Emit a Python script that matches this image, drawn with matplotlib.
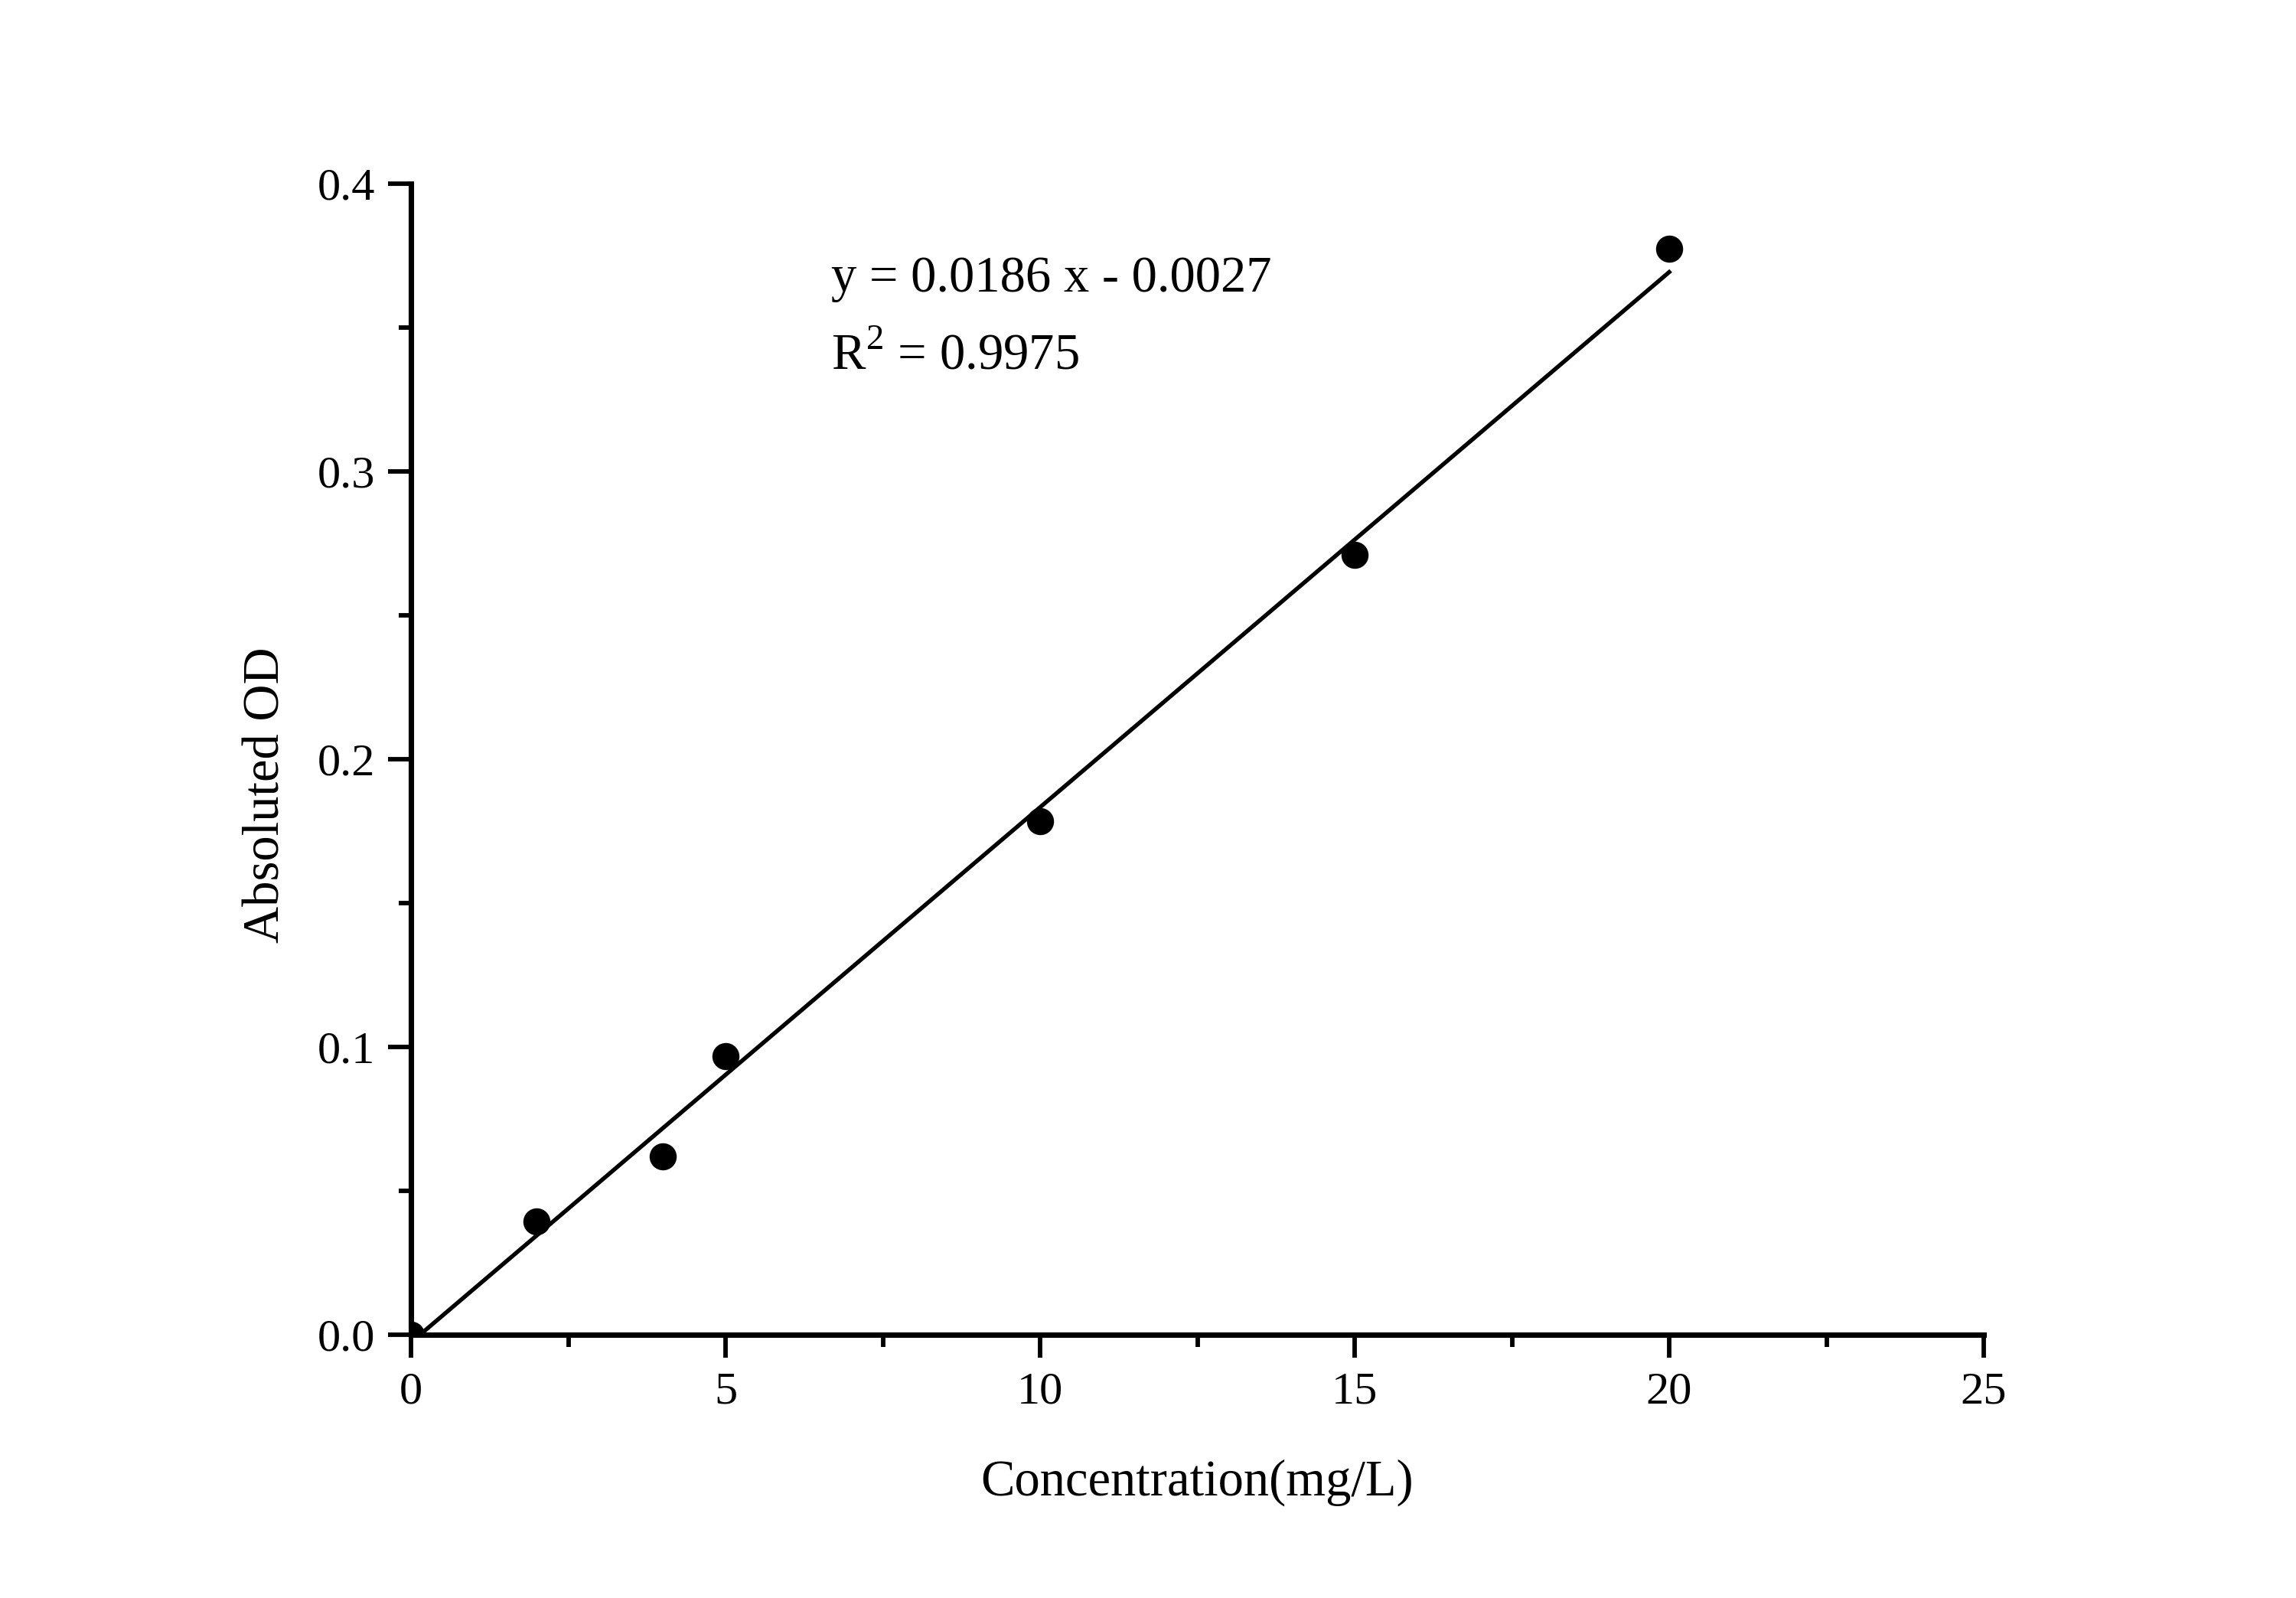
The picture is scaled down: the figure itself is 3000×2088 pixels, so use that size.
import matplotlib
matplotlib.use('Agg')
import matplotlib.pyplot as plt
from matplotlib.ticker import MultipleLocator
import numpy as np

plt.rcParams['font.family'] = ['Liberation Serif', 'DejaVu Serif']
plt.rcParams['mathtext.fontset'] = 'custom'
plt.rcParams['mathtext.rm'] = 'Liberation Serif'

# 資料
conc = [0, 2, 4, 5, 10, 15, 20]
od = [0.0, 0.0394, 0.0619, 0.0967, 0.1785, 0.2711, 0.3775]

# 線性擬合結果
slope = 0.0186
intercept = -0.0027
r2 = 0.9975
fit_range = [0, 20]

x_ticks = [0, 5, 10, 15, 20, 25]
y_ticks = [0.0, 0.1, 0.2, 0.3, 0.4]

fig = plt.figure(figsize=(10, 6.96), dpi=300)
ax = fig.add_axes([0.179, 0.1648, 0.685, 0.7202])

fit_x = np.array(fit_range, dtype=float)
fit_y = slope * fit_x + intercept
ax.plot(fit_x, fit_y, color='black', linewidth=1.3, zorder=2)
ax.plot(conc, od, 'o', color='black', markersize=7.5, zorder=3)

ax.set_xlim(x_ticks[0], x_ticks[-1])
ax.set_ylim(y_ticks[0], y_ticks[-1])
ax.set_xticks(x_ticks)
ax.set_yticks(y_ticks)
ax.set_yticklabels([f'{v:.1f}' for v in y_ticks])
ax.xaxis.set_minor_locator(MultipleLocator(2.5))
ax.yaxis.set_minor_locator(MultipleLocator(0.05))

for side in ['top', 'right']:
    ax.spines[side].set_visible(False)
for side in ['left', 'bottom']:
    ax.spines[side].set_linewidth(1.7)

ax.tick_params(which='major', direction='out', length=7.2, width=1.4, labelsize=14.5)
ax.tick_params(which='minor', direction='out', length=3.8, width=1.4)
ax.tick_params(axis='y', which='major', pad=4)
ax.tick_params(axis='x', which='major', pad=4.5)

ax.set_xlabel('Concentration(mg/L)', fontsize=16)
ax.set_ylabel('Absoluted OD', fontsize=16)
ax.xaxis.set_label_coords(0.5, -0.108)
ax.yaxis.set_label_coords(-0.077, 0.469)

ax.text(6.68, 0.367, f'y = {slope:.4f} x - {abs(intercept):.4f}', fontsize=16,
        ha='left', va='center')
ax.text(6.68, 0.340, f'R$^2$ = {r2:.4f}', fontsize=16, ha='left', va='center')

fig.savefig('out.png', dpi=300)
